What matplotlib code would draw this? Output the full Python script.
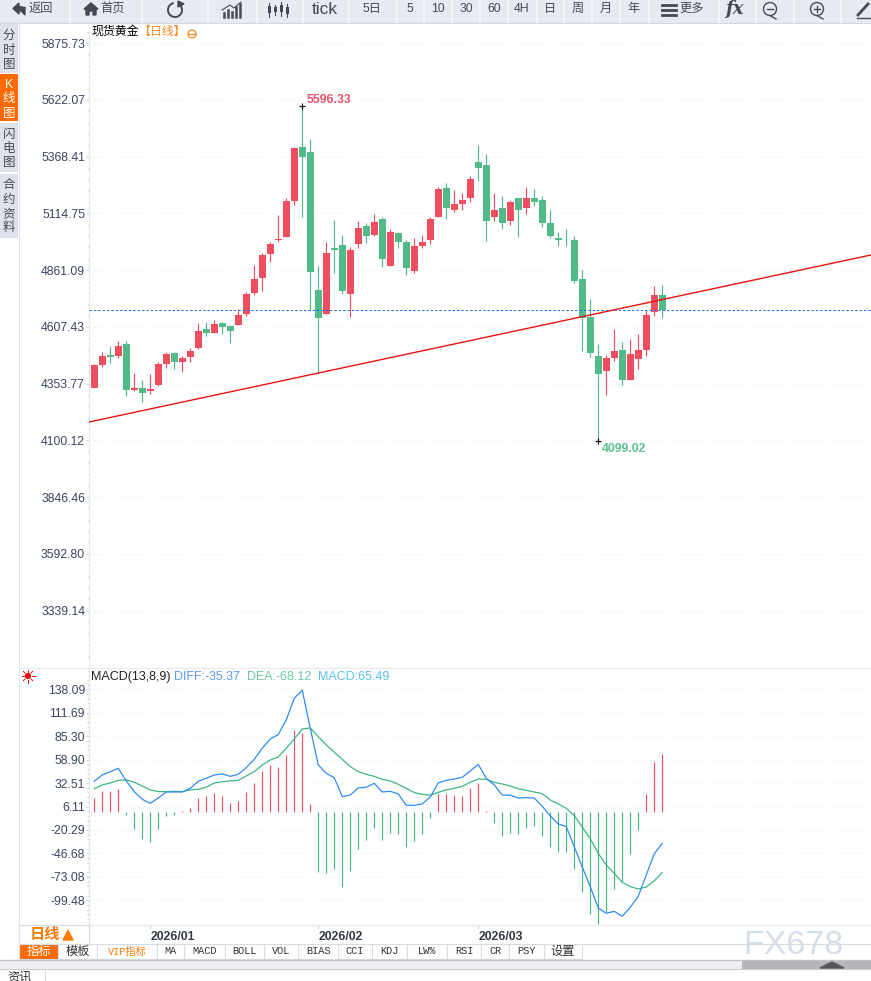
import matplotlib
matplotlib.use("Agg")
import numpy as np
import matplotlib.pyplot as plt
from matplotlib.patches import Rectangle, Circle, Polygon, Arc
from matplotlib.ticker import AutoMinorLocator

plt.rcParams['font.family'] = ['Liberation Sans', 'Noto Sans CJK SC', 'DejaVu Sans']

# daily candles
opens = [4334, 4436, 4481, 4476, 4530, 4324, 4333, 4319, 4346, 4440, 4490, 4449, 4472, 4512, 4597, 4579, 4624, 4610,
         4615, 4664, 4758, 4825, 4933, 4995, 5009, 5170, 5412, 5389, 4772, 4664, 4960, 4973, 4754, 4977, 5058, 5018,
         5088, 4881, 5029, 4985, 4859, 4971, 4998, 5101, 5227, 5132, 5159, 5182, 5343, 5330, 5101, 5141, 5079, 5182,
         5141, 5182, 5177, 5070, 5007, 5002, 4998, 4823, 4653, 4478, 4411, 4469, 4505, 4371, 4465, 4505, 4675, 4751]
highs = [4443, 4494, 4521, 4543, 4543, 4400, 4369, 4396, 4449, 4494, 4494, 4476, 4512, 4624, 4628, 4637, 4628, 4615,
         4687, 4763, 4884, 4937, 4986, 5107, 5183, 5412, 5596.33, 5448, 4879, 4986, 5085, 5018, 4964, 5080, 5072, 5112,
         5097, 5043, 5034, 4998, 5007, 5020, 5097, 5235, 5249, 5218, 5204, 5280, 5419, 5379, 5204, 5191, 5173, 5186,
         5235, 5222, 5191, 5128, 5034, 5043, 5016, 4864, 4734, 4532, 4483, 4599, 4541, 4554, 4577, 4684, 4792, 4796]
lows = [4334, 4428, 4446, 4469, 4299, 4319, 4272, 4308, 4342, 4424, 4419, 4405, 4451, 4507, 4566, 4579, 4575, 4534,
        4615, 4655, 4749, 4767, 4897, 4986, 5009, 5152, 5098, 4682, 4399, 4664, 4848, 4754, 4651, 4960, 4982, 5013,
        4877, 4881, 4962, 4841, 4850, 4958, 4980, 5101, 5092, 5119, 5128, 5164, 5258, 4993, 5083, 5047, 5061, 5011,
        5114, 5146, 5052, 5007, 4967, 4971, 4805, 4500, 4474, 4099.02, 4303, 4456, 4348, 4371, 4420, 4478, 4657, 4648]
closes = [4436, 4476, 4472, 4521, 4325, 4333, 4312, 4328, 4440, 4485, 4451, 4467, 4499, 4588, 4579, 4619, 4606, 4588,
          4660, 4754, 4821, 4928, 4977, 5000, 5170, 5407, 5367, 4852, 4646, 4937, 4951, 4767, 4951, 5049, 5013, 5076,
          4913, 5034, 4985, 4872, 4971, 4989, 5092, 5222, 5137, 5159, 5177, 5271, 5316, 5083, 5132, 5074, 5164, 5128,
          5186, 5168, 5074, 5016, 4998, 4999, 4814, 4645, 4492, 4397, 4469, 4500, 4371, 4487, 4505, 4662, 4751, 4684]

# macd panel
diff = [34.5, 41.6, 45.4, 49.1, 34.9, 22.9, 14.2, 9.7, 15.7, 22.5, 22.5, 22.5, 26.6, 34.5, 37.9, 41.6, 42.8, 40.1,
        42.4, 49.9, 59.3, 71.7, 82.2, 87.1, 103.6, 128, 137, 94.2, 52.9, 43.5, 38.6, 17.2, 19.1, 27, 27.8, 32.3,
        22.5, 23.2, 20.3, 7.5, 7.5, 9, 16.9, 32.6, 35.6, 37.1, 39, 46.1, 53.6, 37.9, 30.4, 19.1, 18.8, 15.7,
        16.1, 15.7, 6.4, -4.5, -13.5, -16.5, -39, -61.9, -84.1, -108.1, -114.1, -111.9, -117.5, -107.4, -95, -71, -47.3, -35.37]
dea = [26.2, 30.4, 32.6, 35.6, 36, 33.4, 29.2, 24.8, 22.9, 22.9, 23.2, 22.9, 24.8, 25.5, 27.8, 32.6, 34.1, 34.9,
       35.6, 40.5, 45.4, 52.9, 58.5, 61.9, 71.7, 82.2, 93.4, 94.6, 84.8, 75.4, 67.2, 59.3, 51, 45.4, 42.4, 40.1,
       36.8, 34.9, 31.1, 26.6, 21.8, 19.9, 18.8, 22.1, 24.8, 26.6, 28.9, 33.4, 37.1, 36.8, 33.4, 31.5, 29.2, 26.2,
       24.4, 22.5, 20.6, 13.5, 9, 4.1, -4.1, -16.9, -30, -46.6, -59.7, -69.1, -79.2, -84.1, -86.7, -84.5, -77.7, -68.12]
macd = [15.7, 23.6, 23.6, 25.9, -3, -18.8, -30, -33.4, -18.8, -4.1, -3, 1, 4.5, 15.7, 18, 21.4, 18, 10.1,
        12.4, 22.5, 32.6, 46.1, 52.9, 50.6, 64.2, 92.3, 88.9, 9, -67.6, -68.7, -64.2, -84.5, -66.5, -41.7, -31.5, -18,
        -31.5, -23.7, -24.8, -39.4, -32.7, -24.8, -6.8, 20.3, 20.3, 19.1, 18, 27, 32.6, 1.1, -12.4, -27, -23.7, -24.8,
        -18, -15.8, -27, -39.4, -45.1, -45.1, -64.2, -90.1, -114.9, -126.1, -112.6, -86.7, -77.7, -47.3, -20.3, 20.3, 56.3, 65.49]

price_ticks = [5875.73, 5622.07, 5368.41, 5114.75, 4861.09, 4607.43, 4353.77, 4100.12, 3846.46, 3592.80, 3339.14]
macd_ticks = [138.09, 111.69, 85.30, 58.90, 32.51, 6.11, -20.29, -46.68, -73.08, -99.48]
month_pos = [7, 28, 48]
month_labels = ['2026/01', '2026/02', '2026/03']
trend_x = [-0.66, 97.1]
trend_y = [4182, 4929]
last_close = 4684

RED = '#ee4f60'
GREEN = '#52ba88'
GRID = '#ececec'
AXIS = '#e4eaf0'
TICK = '#3b4560'
W, H = 871, 981

fig = plt.figure(figsize=(W / 100, H / 100), dpi=100, facecolor='white')


def pane(top, bottom):
    a = fig.add_axes([89 / W, 1 - bottom / H, (W - 89) / W, (bottom - top) / H])
    a.set_xlim(-0.66, 97.1)
    for s in ['top', 'right']:
        a.spines[s].set_visible(False)
    for s in ['left', 'bottom']:
        a.spines[s].set_color(AXIS)
    a.tick_params(axis='y', which='major', length=2.2, width=0.8, color='#ccd5de', labelsize=8.8,
                  labelcolor=TICK, pad=0.6)
    a.tick_params(axis='y', which='minor', length=1.5, width=0.8, color='#ccd5de')
    a.yaxis.set_minor_locator(AutoMinorLocator(5))
    a.grid(True, axis='y', color=GRID, linestyle=(0, (1, 3)), linewidth=0.8)
    a.set_axisbelow(True)
    return a


# candle pane
ax = pane(23, 667)
ax.set_ylim(3086.5, 5966.4)
ax.set_yticks(price_ticks, [f'{v:.2f}' for v in price_ticks])
ax.set_xticks([])
idx = np.arange(len(opens))
o, h, l, c = map(np.array, (opens, highs, lows, closes))
colors = [RED if cl >= op else GREEN for op, cl in zip(o, c)]
ax.vlines(idx, l, h, colors=colors, linewidth=0.85, zorder=2)
ax.bar(idx, np.abs(c - o), bottom=np.minimum(o, c), width=0.85, color=colors, linewidth=0, zorder=3)
ax.axhline(last_close, color='#1a73e8', linestyle=(0, (2.5, 2)), linewidth=0.7, zorder=4)
ax.plot(trend_x, trend_y, color='#ee1111', linewidth=1.0, zorder=5)
ax.plot([26, 63], [highs[26], lows[63]], linestyle='none', marker='+', color='black', markersize=5,
        markeredgewidth=0.8, zorder=6)
ax.annotate('5596.33', (26, highs[26]), xytext=(4, 6), textcoords='offset pixels', color='#e8556b',
            fontsize=8.8, fontweight='bold', va='center')
ax.annotate('4099.02', (63, lows[63]), xytext=(4, -8), textcoords='offset pixels', color='#5cc091',
            fontsize=8.8, fontweight='bold', va='center')

# macd pane
ax2 = pane(667, 925)
ax2.set_ylim(-127.3, 163.2)
ax2.set_yticks(macd_ticks, [f'{v:.2f}' for v in macd_ticks])
m = np.array(macd)
ax2.vlines(idx, 0, m, colors=[RED if v > 0 else '#45b982' for v in m], linewidth=0.85, zorder=2)
ax2.plot(idx, diff, color='#2f8bf5', linewidth=0.9, zorder=4)
ax2.plot(idx, dea, color='#3db87f', linewidth=0.9, zorder=3)
ax2.set_xticks(month_pos, month_labels, ha='left', fontsize=8.8, fontweight='bold', color='#333a44')
ax2.tick_params(axis='x', length=3, width=0.8, color='#ccd5de', pad=1.5)
for lab in ax2.get_xticklabels():
    lab.set_x(lab.get_position()[0])

# page chrome around the chart
ui = fig.add_axes([0, 0, 1, 1], zorder=10)
ui.set_xlim(0, W)
ui.set_ylim(H, 0)
ui.axis('off')
ui.patch.set_alpha(0)
INK = '#444a55'


def box(x0, y0, x1, y1, fc, ec='none', lw=0.8):
    ui.add_patch(Rectangle((x0, y0), x1 - x0, y1 - y0, facecolor=fc, edgecolor=ec, linewidth=lw))


def label(x, y, s, size=8.8, color=INK, ha='center', **kw):
    ui.text(x, y, s, fontsize=size, color=color, ha=ha, va='center', **kw)


# toolbar
box(0, 0, W, 23, '#e7eaf1')
seps = [70, 142, 208, 257, 303, 349, 397, 424, 452, 480, 508, 537, 564, 592, 620, 649, 719, 756, 794, 841]
for x in seps:
    ui.plot([x, x], [0, 22], color='#f7f8fb', linewidth=1.2)
ui.plot([0, W], [22.5, 22.5], color='#d4d8e0', linewidth=0.8)
ui.add_patch(Polygon([[13, 8.5], [19, 3], [19, 6.5], [25, 7.5], [25, 15], [21, 11], [19, 11], [19, 14]], color='#444a55'))
label(41, 9, '返回')
ui.add_patch(Polygon([[84, 9], [91, 3], [98, 9], [96, 9], [96, 15], [93, 15], [93, 11], [89, 11], [89, 15], [86, 15], [86, 9]],
                     color='#444a55'))
label(113, 9, '首页')
ui.add_patch(Arc((175, 10), 14, 14, theta1=-50, theta2=260, color='#444a55', linewidth=1.4))
ui.add_patch(Polygon([[178, 1], [184, 4], [178, 7]], color='#444a55'))
for x, top in zip([224, 228, 232, 236, 240], [13, 10, 12, 7, 4]):
    ui.plot([x, x], [top, 17], color='#444a55', linewidth=1.8)
ui.plot([222, 230, 234, 241], [10, 5, 8, 2], color='#444a55', linewidth=0.8)
for x, y0, y1, b0, b1 in [(269, 3, 17, 6, 13), (275, 5, 15, 7, 12), (281, 2, 16, 5, 12), (287, 4, 17, 7, 14)]:
    ui.plot([x, x], [y0, y1], color='#444a55', linewidth=0.8)
    box(x - 1.5, b0, x + 1.5, b1, '#444a55')
label(325, 9, 'tick', size=12.5)
for x, s in zip([372, 410, 438, 466, 494, 522, 550, 578, 606, 634],
                ['5日', '5', '10', '30', '60', '4H', '日', '周', '月', '年']):
    label(x, 9, s)
for y in [4.5, 9.5, 14.5]:
    ui.plot([662, 676], [y, y], color='#444a55', linewidth=2)
label(692, 9, '更多')
label(734, 9, 'fx', size=13, fontweight='bold', style='italic', family='DejaVu Serif')
ui.add_patch(Circle((770, 9), 6.5, fill=False, edgecolor='#444a55', linewidth=1))
ui.plot([767, 773], [9, 9], color='#444a55', linewidth=1)
ui.plot([770, 776], [15.5, 19], color='#444a55', linewidth=1)
ui.add_patch(Circle((817, 9), 6.5, fill=False, edgecolor='#444a55', linewidth=1))
ui.plot([814, 820], [9, 9], color='#444a55', linewidth=1)
ui.plot([817, 817], [6, 12], color='#444a55', linewidth=1)
ui.plot([817, 823], [15.5, 19], color='#444a55', linewidth=1)
ui.plot([858, 868], [15, 4], color='#444a55', linewidth=2)
ui.plot([857, 871], [18, 18], color='#444a55', linewidth=1)

# side tabs
ui.plot([18.5, 18.5], [23, 959], color='#dde3ea', linewidth=0.8)
tabs = [(24, 73, '分时图', [36, 51, 65]), (74, 121, 'K线图', [85, 99, 114]),
        (123, 172, '闪电图', [135, 149, 163]), (174, 238, '合约资料', [185, 200, 214, 228])]
for i, (y0, y1, s, ys) in enumerate(tabs):
    active = i == 1
    box(0, y0, 18, y1, '#ff6a00' if active else '#dfe2ea')
    for ch, y in zip(s, ys):
        label(9, y, ch, size=9, color='white' if active else '#444a55')

# headers
label(91, 32, '现货黄金', size=8.6, color='black', ha='left')
label(138, 32, '【日线】', size=8.6, color='#f68a1e', ha='left')
ui.add_patch(Circle((192, 34), 4, fill=False, edgecolor='#f68a1e', linewidth=0.9))
ui.plot([188, 196], [34, 34], color='#f68a1e', linewidth=0.9)
ui.plot([19, W], [667.5, 667.5], color='#e4eaf0', linewidth=0.8)
ui.add_patch(Circle((28, 676), 2.4, color='#dd1111'))
for a in np.deg2rad(np.arange(0, 360, 45)):
    ui.plot([28 + 4 * np.cos(a), 28 + 6.5 * np.cos(a)], [676 + 4 * np.sin(a), 676 + 6.5 * np.sin(a)],
            color='#dd1111', linewidth=0.7)
label(91, 677, 'MACD(13,8,9)', size=9, color='#222222', ha='left')
label(174, 677, 'DIFF:-35.37', size=9, color='#5b9bf0', ha='left')
label(247, 677, 'DEA:-68.12', size=9, color='#6cc8a0', ha='left')
label(318, 677, 'MACD:65.49', size=9, color='#5bc0f0', ha='left')

# bottom tabs
box(19, 925, 89, 944, 'white', '#d5dbe3')
label(45, 935, '日线', size=11, color='#ff7a00', fontweight='bold')
ui.add_patch(Polygon([[63, 940], [68, 930.5], [73, 940]], color='#ff7a00'))
ui.plot([19, W], [944, 944], color='#d8dde5', linewidth=0.8)
bot = [(19, 58, '指标'), (58, 97, '模板'), (97, 157, 'VIP指标'), (157, 184, 'MA'), (184, 225, 'MACD'), (225, 264, 'BOLL'),
       (264, 298, 'VOL'), (298, 338, 'BIAS'), (338, 372, 'CCI'), (372, 407, 'KDJ'), (407, 447, 'LW%'), (447, 481, 'RSI'),
       (481, 509, 'CR'), (509, 544, 'PSY'), (544, 582, '设置')]
for i, (x0, x1, s) in enumerate(bot):
    box(x0, 944, x1, 959, '#ff6a00' if i == 0 else 'white', '#d8dde5')
    col = 'white' if i == 0 else ('#ff7a00' if i == 2 else '#333333')
    fam = ['Liberation Mono', 'Noto Sans CJK SC']
    label((x0 + x1) / 2, 951.5, s, size=8.8 if s in ('指标', '模板', '设置') else 7.4, color=col, family=fam)
box(0, 960, W, 969, '#eceef2')
ui.plot([0, W], [959.7, 959.7], color='#bfc3c9', linewidth=1)
ui.plot([0, W], [969.3, 969.3], color='#c9cdd3', linewidth=0.8)
box(742, 960.5, W, 969, '#b5b5b8')
ui.add_patch(Polygon([[820, 968], [832, 962], [844, 968]], color='#555555'))
ui.plot([45, 45], [970, 981], color='#d5d8dd', linewidth=0.8)
label(20, 978, '资讯', size=8.8, color='#333333', clip_on=True)
label(793, 946, 'FX678', size=24.5, color='#d6deea')

fig.savefig('out.png', dpi=100)
